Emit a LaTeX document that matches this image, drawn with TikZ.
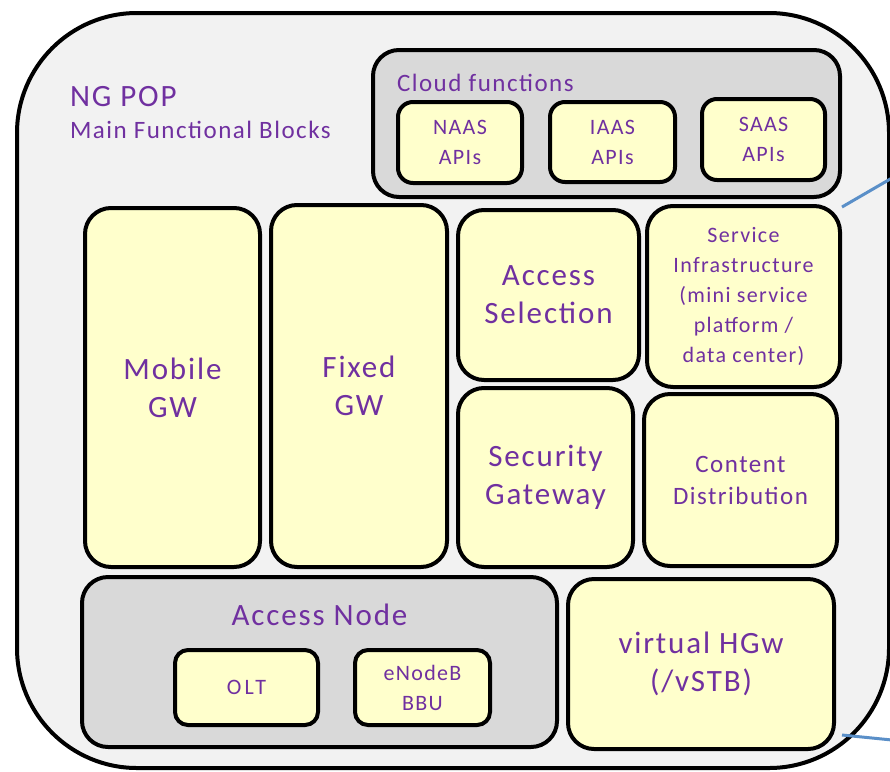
\documentclass[tikz,border=0pt]{standalone}
\usepackage{fontspec}
\setmainfont{Carlito}[LetterSpace=6]
\newfontfamily\widefont{Carlito}[LetterSpace=14]
\definecolor{popgray}{HTML}{F2F2F2}
\definecolor{grpgray}{HTML}{D9D9D9}
\definecolor{blockyellow}{HTML}{FFFFCC}
\definecolor{txtpurple}{HTML}{7030A0}
\definecolor{linkblue}{HTML}{5A8FC8}
\tikzset{
  frame/.style={draw=black, line width=4pt, inner sep=0pt, outer sep=0pt,
    text=txtpurple, align=center},
  popbox/.style={frame, fill=popgray, rounded corners=120pt},
  groupbox/.style={frame, fill=grpgray, rounded corners=26pt},
  bigblock/.style={frame, fill=blockyellow, rounded corners=26pt},
  smallblock/.style={frame, fill=blockyellow, rounded corners=15pt},
  label/.style={text=txtpurple, inner sep=0pt, outer sep=0pt},
  link/.style={draw=linkblue, line width=3pt},
  fbig/.style={font=\fontsize{31}{38}\selectfont},
  fmid/.style={font=\fontsize{25}{32}\selectfont},
  fsmall/.style={font=\fontsize{22}{30}\selectfont},
}
\begin{document}
\begin{tikzpicture}[x=1pt, y=-1pt]
  \useasboundingbox (0,0) rectangle (890,771);
  \clip (0,0) rectangle (890,771);

  % the point of presence that holds all blocks
  \node[popbox, minimum width=872pt, minimum height=755pt] (pop) at (453,390.5) {};
  \node[label, anchor=base west, font=\fontsize{31}{36}\selectfont] (title) at (70,106) {NG POP};
  \node[label, anchor=base west, font=\fontsize{25}{30}\selectfont] (subtitle) at (70,138) {Main Functional Blocks};

  % cloud functions group
  \node[groupbox, minimum width=467pt, minimum height=147pt] (cloud) at (606.5,123.5) {};
  \node[label, anchor=base west, font=\fontsize{25}{30}\selectfont] (cloudtitle) at (397,91) {Cloud functions};
  \node[smallblock, fsmall, minimum width=124pt, minimum height=81pt] (naas) at (460,142.5) {NAAS\\APIs};
  \node[smallblock, fsmall, minimum width=125pt, minimum height=80pt] (iaas) at (612.5,142) {IAAS\\APIs};
  \node[smallblock, fsmall, minimum width=123pt, minimum height=81pt] (saas) at (763.5,139.5) {SAAS\\APIs};

  % gateways and functional blocks
  \node[bigblock, fbig, minimum width=175pt, minimum height=359pt] (mobile) at (172.5,387.5) {Mobile\\GW};
  \node[bigblock, fbig, minimum width=176pt, minimum height=362pt] (fixed) at (359,386) {Fixed\\GW};
  \node[bigblock, fbig, minimum width=181pt, minimum height=170pt] (accsel) at (548.5,295) {Access\\Selection};
  \node[bigblock, fsmall, minimum width=193pt, minimum height=181pt] (svc) at (743.5,296.5)
    {Service\\Infrastructure\\(mini service\\platform /\\data center)};
  \node[bigblock, fbig, minimum width=175pt, minimum height=179pt] (secgw) at (545.5,477.5) {Security\\Gateway};
  \node[bigblock, fmid, minimum width=193pt, minimum height=172pt] (content) at (740.5,480) {Content\\Distribution};

  % access node group
  \node[groupbox, minimum width=475pt, minimum height=170pt] (access) at (319.5,662) {};
  \node[label, anchor=base, font=\fontsize{31}{36}\selectfont] (accesstitle) at (319.5,625) {Access Node};
  \node[smallblock, minimum width=143pt, minimum height=75pt, rounded corners=13pt,
    font=\widefont\fontsize{22}{30}\selectfont] (olt) at (246.5,687.5) {OLT};
  \node[smallblock, fsmall, minimum width=135pt, minimum height=75pt, rounded corners=13pt] (enb) at (422.5,687.5) {eNodeB\\BBU};

  % virtual home gateway
  \node[bigblock, fbig, minimum width=266pt, minimum height=170pt] (vhgw) at (701,664) {virtual HGw\\(/vSTB)};

  % links leaving the point of presence
  \coordinate (topfrom) at (842,207);
  \coordinate (topto) at (892,178);
  \coordinate (botfrom) at (842,735);
  \coordinate (botto) at (892,740);
  \draw[link] (topfrom) -- (topto);
  \draw[link] (botfrom) -- (botto);
\end{tikzpicture}
\end{document}
